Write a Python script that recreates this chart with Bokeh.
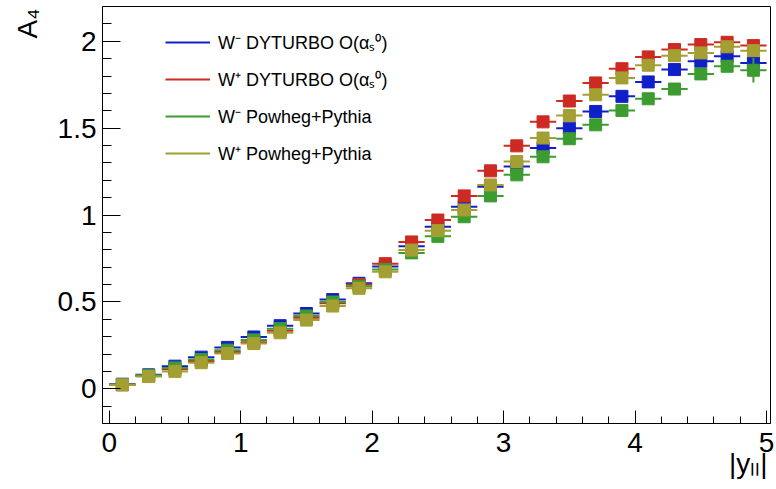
import numpy as np
from bokeh.plotting import figure
from bokeh.models import (Range1d, FixedTicker, CustomJSTickFormatter, Legend,
                          LegendItem, Title, ColumnDataSource)
from bokeh.embed import file_html
from bokeh.resources import INLINE

# ---------------- data ----------------
bin_centers = [0.1, 0.3, 0.5, 0.7, 0.9, 1.1, 1.3, 1.5, 1.7, 1.9, 2.1, 2.3, 2.5,
               2.7, 2.9, 3.1, 3.3, 3.5, 3.7, 3.9, 4.1, 4.3, 4.5, 4.7, 4.9]
bin_half_width = 0.1

a4_wminus_dyturbo = [0.026, 0.080, 0.130, 0.182, 0.238, 0.298, 0.363, 0.433, 0.513,
                     0.607, 0.703, 0.820, 0.933, 1.048, 1.163, 1.279, 1.385, 1.500,
                     1.596, 1.683, 1.766, 1.837, 1.885, 1.913, 1.875]
a4_wplus_dyturbo = [0.023, 0.073, 0.112, 0.160, 0.212, 0.268, 0.334, 0.408, 0.492,
                    0.600, 0.720, 0.845, 0.971, 1.110, 1.254, 1.398, 1.536, 1.656,
                    1.760, 1.842, 1.910, 1.952, 1.981, 1.994, 1.975]
a4_wminus_powheg = [0.025, 0.077, 0.120, 0.168, 0.222, 0.281, 0.346, 0.419, 0.499,
                    0.590, 0.686, 0.782, 0.877, 0.990, 1.110, 1.231, 1.335, 1.439,
                    1.519, 1.602, 1.669, 1.725, 1.812, 1.856, 1.833]
a4_wplus_powheg = [0.022, 0.070, 0.100, 0.150, 0.203, 0.260, 0.322, 0.395, 0.476,
                   0.578, 0.673, 0.798, 0.910, 1.029, 1.173, 1.308, 1.443, 1.572,
                   1.692, 1.789, 1.862, 1.917, 1.933, 1.968, 1.946]

err_wminus_dyturbo = [0.004] * 25
err_wplus_dyturbo = [0.004] * 25
err_wminus_powheg = [0.004] * 23 + [0.02, 0.07]
err_wplus_powheg = [0.004] * 24 + [0.02]

series_labels = ["W\u207b DYTURBO O(\u03b1\u209b\u2070)",
                 "W\u207a DYTURBO O(\u03b1\u209b\u2070)",
                 "W\u207b Powheg+Pythia",
                 "W\u207a Powheg+Pythia"]
series_colors = ["#1020c8", "#cc2a22", "#3c9c30", "#a39f32"]

x_title = "|y\u2097\u2097|"
y_title = "A\u2084"

x_tick_values = [0, 1, 2, 3, 4, 5]
x_tick_labels = ["0", "1", "2", "3", "4", "5"]
y_tick_values = [0, 0.5, 1, 1.5, 2]
y_tick_labels = ["0", "0.5", "1", "1.5", "2"]

# ---------------- geometry ----------------
W, H = 776, 489
FRAME_L, FRAME_R, FRAME_T, FRAME_B = 102, 770, 6, 423   # canvas pixels
X0, X1 = -0.051, 5.03
Y0, Y1 = -0.2, 2.2

FONT = "Liberation Sans"

p = figure(width=W, height=H, output_backend="svg", toolbar_location=None,
           x_range=Range1d(X0, X1), y_range=Range1d(Y0, Y1),
           min_border_left=FRAME_L, min_border_right=W - FRAME_R,
           min_border_top=FRAME_T, min_border_bottom=H - FRAME_B)
p.grid.visible = False
p.outline_line_color = "black"
p.outline_line_width = 1
p.background_fill_color = "white"
p.border_fill_color = "white"

x_minor = [round(v, 2) for v in np.arange(0.0, 5.01, 0.2)]
y_minor = [round(v, 2) for v in np.arange(-0.1, 2.15, 0.1)]

xa = p.xaxis[0]
xa.ticker = FixedTicker(ticks=x_tick_values, minor_ticks=x_minor)
xa.formatter = CustomJSTickFormatter(
    args=dict(vals=x_tick_values, labs=x_tick_labels),
    code="const i = vals.indexOf(tick); return i >= 0 ? labs[i] : '';")
ya = p.yaxis[0]
ya.ticker = FixedTicker(ticks=y_tick_values, minor_ticks=y_minor)
ya.formatter = CustomJSTickFormatter(
    args=dict(vals=y_tick_values, labs=y_tick_labels),
    code="const i = vals.indexOf(tick); return i >= 0 ? labs[i] : '';")

for ax, mj, mn, so in ((xa, 13, 7, 9), (ya, 18, 9, 6)):
    ax.axis_line_color = "black"
    ax.axis_line_width = 1
    ax.major_tick_line_color = "black"
    ax.minor_tick_line_color = "black"
    ax.major_tick_in = mj
    ax.major_tick_out = 0
    ax.minor_tick_in = mn
    ax.minor_tick_out = 0
    ax.major_label_text_font = FONT
    ax.major_label_text_font_size = "28px"
    ax.major_label_text_color = "black"
    ax.major_label_standoff = so

# ---------------- series ----------------
series = [(a4_wminus_dyturbo, err_wminus_dyturbo),
          (a4_wplus_dyturbo, err_wplus_dyturbo),
          (a4_wminus_powheg, err_wminus_powheg),
          (a4_wplus_powheg, err_wplus_powheg)]

legend_renderers = []
for (vals, errs), color in zip(series, series_colors):
    src = ColumnDataSource(dict(
        x=bin_centers, y=vals,
        xl=[c - bin_half_width for c in bin_centers],
        xr=[c + bin_half_width for c in bin_centers],
        ylo=[v - e for v, e in zip(vals, errs)],
        yhi=[v + e for v, e in zip(vals, errs)]))
    seg = p.segment(x0="xl", y0="y", x1="xr", y1="y", source=src,
                    line_color=color, line_width=2)
    p.segment(x0="x", y0="ylo", x1="x", y1="yhi", source=src,
              line_color=color, line_width=2)
    p.scatter(x="x", y="y", marker="square", size=12, source=src,
              fill_color=color, line_color=color)
    legend_renderers.append(seg)

legend = Legend(items=[LegendItem(label=lab, renderers=[r])
                       for lab, r in zip(series_labels, legend_renderers)],
                location=(165 - FRAME_L, FRAME_B - 168), padding=0, margin=0,
                spacing=7, glyph_width=45, glyph_height=30, label_height=30,
                label_standoff=8, border_line_color=None,
                background_fill_alpha=0,
                label_text_font=FONT, label_text_font_size="18px",
                label_text_color="black")
p.add_layout(legend)

# ---------------- axis titles (side panels, right/top aligned) ----------------
p.add_layout(Title(text=y_title, align="right", vertical_align="top",
                   offset=2, standoff=20, text_font=FONT,
                   text_font_size="28px", text_font_style="normal",
                   text_color="black"), "left")
p.add_layout(Title(text=x_title, align="right", vertical_align="top",
                   offset=3, standoff=-14, text_font=FONT,
                   text_font_size="28px", text_font_style="normal",
                   text_color="black"), "below")

open("out.html", "w").write(file_html(p, INLINE))
